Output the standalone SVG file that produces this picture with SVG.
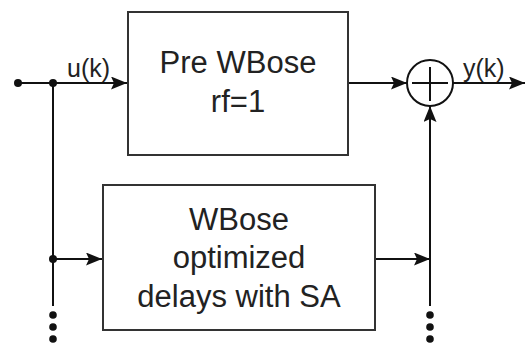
<svg xmlns="http://www.w3.org/2000/svg" width="526" height="345" viewBox="0 0 526 345">
<defs>
<marker id="arr" viewBox="0 0 16 13" refX="16" refY="6.5" markerWidth="16" markerHeight="13" markerUnits="userSpaceOnUse" orient="auto">
<path d="M0,0 L16,6.5 L0,13 L3,6.5 Z" fill="#111"/>
</marker>
<style>
.box{fill:#fff;stroke:#333;stroke-width:2}
.ln{fill:none;stroke:#111;stroke-width:2}
.t{font-family:"Liberation Sans",Arial,sans-serif;font-size:31px;fill:#222;text-anchor:middle}
.lbl{font-family:"Liberation Sans",Arial,sans-serif;font-size:25px;fill:#222}
.dot{fill:#111}
</style>
</defs>
<g id="connectors">
<line class="ln" x1="18" y1="83" x2="127" y2="83" marker-end="url(#arr)"/>
<line class="ln" x1="53" y1="83" x2="53" y2="306"/>
<line class="ln" x1="53" y1="259" x2="102" y2="259" marker-end="url(#arr)"/>
<line class="ln" x1="348" y1="83" x2="407" y2="83" marker-end="url(#arr)"/>
<line class="ln" x1="453" y1="83" x2="525" y2="83" marker-end="url(#arr)"/>
<line class="ln" x1="375" y1="259" x2="430" y2="259" marker-end="url(#arr)"/>
<line class="ln" x1="430" y1="306" x2="430" y2="106" marker-end="url(#arr)"/>
<circle class="dot" cx="18" cy="83" r="4"/>
<circle class="dot" cx="53" cy="83" r="4"/>
<circle class="dot" cx="53" cy="259" r="4"/>
<circle class="dot" cx="53" cy="315" r="3.8"/>
<circle class="dot" cx="53" cy="327" r="3.8"/>
<circle class="dot" cx="53" cy="339" r="3.8"/>
<circle class="dot" cx="430" cy="315" r="3.8"/>
<circle class="dot" cx="430" cy="327" r="3.8"/>
<circle class="dot" cx="430" cy="339" r="3.8"/>
<text class="lbl" x="67" y="77">u(k)</text>
<text class="lbl" x="463" y="77">y(k)</text>
</g>
<g id="pre">
<rect class="box" x="128" y="12" width="220" height="143"/>
<text class="t" x="238" y="73">Pre WBose</text>
<text class="t" x="238" y="112">rf=1</text>
</g>
<g id="wbose">
<rect class="box" x="103" y="185" width="272" height="145"/>
<text class="t" x="239" y="230">WBose</text>
<text class="t" x="239" y="268">optimized</text>
<text class="t" x="239" y="307">delays with SA</text>
</g>
<g id="sum">
<circle cx="430" cy="83" r="23" fill="#fff" stroke="#111" stroke-width="2"/>
<line class="ln" x1="412" y1="83" x2="448" y2="83"/>
<line class="ln" x1="430" y1="67" x2="430" y2="101"/>
</g>
</svg>
